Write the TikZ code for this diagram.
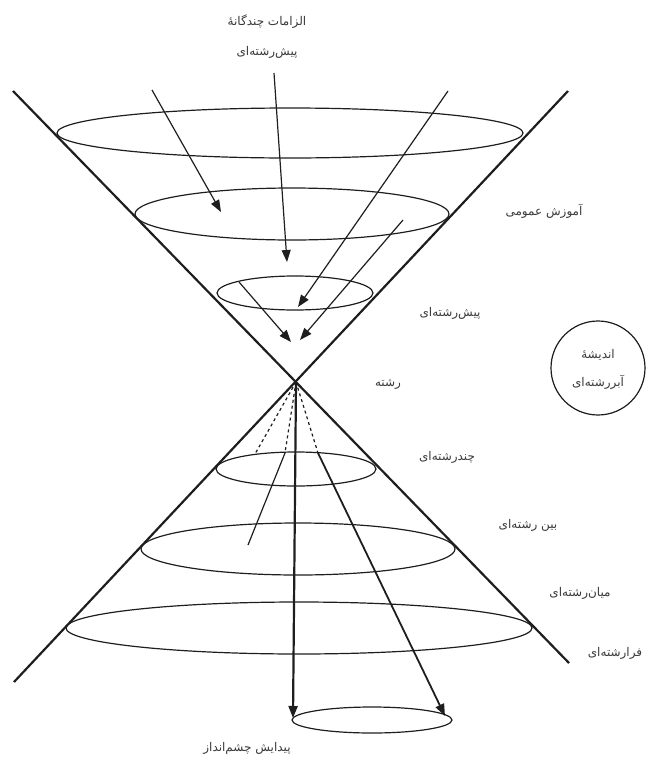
\documentclass[tikz,border=0pt]{standalone}
\usepackage{fontspec}
\newfontfamily\fa[Script=Arabic]{DejaVu Sans}
\TeXXeTstate=1
\usetikzlibrary{arrows.meta,shapes.geometric}
\definecolor{ink}{HTML}{1E1E1E}
\definecolor{txt}{HTML}{3A3A3A}
\begin{document}
\begin{tikzpicture}[x=1pt,y=-1pt,
  cone/.style={draw=ink,line width=2.2pt},
  ring/.style={draw=ink,line width=1.2pt,ellipse,inner sep=0pt,outer sep=0pt},
  arr/.style={draw=ink,line width=1.2pt,-{Triangle[length=12pt,width=9pt]}},
  thickarr/.style={draw=ink,line width=2.2pt,-{Triangle[length=12pt,width=9pt]}},
  dashline/.style={draw=ink,line width=1.2pt,dashed},
  plainline/.style={draw=ink,line width=1.2pt},
  lbl/.style={font=\fa\fontsize{12}{14}\selectfont,text=txt,inner sep=1pt},
  circ/.style={draw=ink,line width=1.2pt,circle,minimum size=94pt,inner sep=0pt}]
\useasboundingbox (0,0) rectangle (650,758);
% cone lines
\coordinate (V) at (296,382);
\coordinate (UL) at (13,91);
\coordinate (UR) at (568,91);
\coordinate (LL) at (14,682);
\coordinate (LR) at (569,663);
\draw[cone] (UL) -- (LR);
\draw[cone] (UR) -- (LL);
% ellipses
\node[ring,minimum width=466pt,minimum height=50pt] (e1) at (290,133) {};
\node[ring,minimum width=314pt,minimum height=52pt] (e2) at (292,214) {};
\node[ring,minimum width=156pt,minimum height=34pt] (e3) at (295,293) {};
\node[ring,minimum width=160pt,minimum height=34pt] (e4) at (296,469) {};
\node[ring,minimum width=314pt,minimum height=52pt] (e5) at (298,549) {};
\node[ring,minimum width=466pt,minimum height=52pt] (e6) at (299,628) {};
\node[ring,minimum width=160pt,minimum height=26pt] (e7) at (372,720) {};
% upper arrows
\coordinate (a1s) at (152,90);  \coordinate (a1e) at (221,212);
\coordinate (a2s) at (274,73);  \coordinate (a2e) at (287,262);
\coordinate (a3s) at (448,91);  \coordinate (a3e) at (298,307);
\coordinate (a4s) at (403,220); \coordinate (a4e) at (300,340);
\coordinate (a5s) at (239,282); \coordinate (a5e) at (291,342);
\draw[arr] (a1s) -- (a1e);
\draw[arr] (a2s) -- (a2e);
\draw[arr] (a3s) -- (a3e);
\draw[arr] (a4s) -- (a4e);
\draw[arr] (a5s) -- (a5e);
% lower lines
\coordinate (d1) at (255,454);
\coordinate (d2) at (285,453); \coordinate (d2e) at (248,545);
\coordinate (d3) at (318,453); \coordinate (d3e) at (445,716);
\coordinate (vend) at (293,718);
\draw[dashline] (V) -- (d1);
\draw[dashline] (V) -- (d2);
\draw[plainline] (d2) -- (d2e);
\draw[dashline] (V) -- (d3);
\draw[thickarr,line width=1.8pt] (d3) -- (d3e);
\draw[thickarr] (V) -- (vend);
% labels
\node[lbl] (title1) at (267,22) {\beginR الزامات چندگانه^^^^0654\endR};
\node[lbl] (title2) at (267,52) {\beginR پیش^^^^200cرشته^^^^200cای\endR};
\node[lbl] (l1) at (544,211) {\beginR آموزش عمومی\endR};
\node[lbl] (l2) at (450,313) {\beginR پیش^^^^200cرشته^^^^200cای\endR};
\node[lbl] (l3) at (388,384) {\beginR رشته\endR};
\node[lbl] (l4) at (447,457) {\beginR چندرشته^^^^200cای\endR};
\node[lbl] (l5) at (528,525) {\beginR بین رشته^^^^200cای\endR};
\node[lbl] (l6) at (580,593) {\beginR میان^^^^200cرشته^^^^200cای\endR};
\node[lbl] (l7) at (615,653) {\beginR فرارشته^^^^200cای\endR};
\node[lbl] (l8) at (247,748) {\beginR پیدایش چشم^^^^200cانداز\endR};
\node[circ] (c) at (598,368) {};
\node[lbl] (c1) at (598,355) {\beginR اندیشه^^^^0654\endR};
\node[lbl] (c2) at (598,382) {\beginR آبررشته^^^^200cای\endR};
\end{tikzpicture}
\end{document}
